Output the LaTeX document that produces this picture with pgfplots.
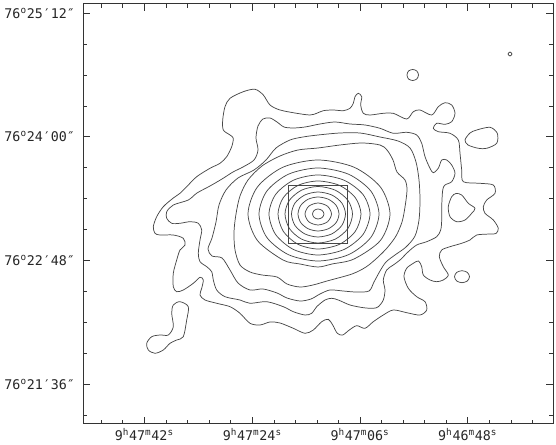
\documentclass[border=0pt]{standalone}
\usepackage{fontspec}
\setmainfont{DejaVu Sans Mono}
\usepackage{pgfplots}
\pgfplotsset{compat=1.18}
\pgfplotsset{ctr/.style={draw=black!72, line width=0.55pt, smooth cycle, mark=none}}
\begin{document}
\begin{tikzpicture}
\begin{axis}[
  at={(62.25pt,15.75pt)}, anchor=south west,
  scale only axis, width=352.5pt, height=315pt,
  xmin=83, xmax=553, ymin=-424, ymax=-4,
  axis line style={black!80, line width=0.75pt},
  xtick={144.3,252.3,360,467.7},
  xticklabels={{9\textsuperscript{h}47\textsuperscript{m}42\textsuperscript{s}},
               {9\textsuperscript{h}47\textsuperscript{m}24\textsuperscript{s}},
               {9\textsuperscript{h}47\textsuperscript{m}06\textsuperscript{s}},
               {9\textsuperscript{h}46\textsuperscript{m}48\textsuperscript{s}}},
  minor xtick={101.2,122.7,165.9,187.4,209.0,230.6,273.9,295.4,317.0,338.6,381.6,403.1,424.7,446.2,489.3,510.9,532.4},
  ytick={-384.2,-260.5,-136.8,-13.3},
  yticklabels={{76\textsuperscript{o}21′36″},{76\textsuperscript{o}22′48″},{76\textsuperscript{o}24′00″},{76\textsuperscript{o}25′12″}},
  minor ytick={-415.1,-353.3,-322.3,-291.4,-229.6,-198.6,-167.7,-106.0,-75.1,-44.2},
  tick align=inside,
  xtick pos=both, ytick pos=both,
  major tick length=5pt, minor tick length=3pt,
  every tick/.style={black!80, line width=0.6pt},
  ticklabel style={font=\fontsize{10}{12}\selectfont, text=black!85},
  yticklabel style={xshift=-2.5pt},
]
% contour 1 (outermost)
\addplot[ctr] coordinates {(230,-98.3) (243.3,-91.7) (255,-89.3) (263.3,-95) (270,-105) (280,-110) (296.7,-113.3) (310,-115) (316.7,-113.3) (323.3,-110.7) (333,-110) (343.3,-110.7) (350,-108.3) (353.3,-103.3) (355,-96.7) (358.3,-93.3) (361.7,-96.7) (360.7,-105) (363.3,-113.3) (370,-115) (383.3,-113.3) (393.3,-113.3) (406.7,-119) (413.3,-111.7) (420,-110) (431.7,-115) (438.3,-106.7) (445,-102.7) (451.7,-105) (455,-113.3) (451.7,-121.7) (445,-124.3) (436.7,-123.3) (433.3,-128.3) (438.3,-131.7) (450,-133.3) (458.3,-140) (460,-153.3) (461.7,-170) (463.3,-181.7) (480,-183.3) (493.3,-185) (495,-193.3) (486.7,-200) (483.3,-206.7) (485,-213.3) (493.3,-220) (498.3,-228.3) (496,-233.5) (490,-234) (476.7,-235) (470,-240) (461.7,-243.3) (450,-246.7) (441.7,-250) (439.3,-256.7) (443.3,-266.7) (448.3,-275) (443.3,-280) (436.7,-281.7) (430,-280) (423.3,-275) (421.7,-266.7) (418.5,-261) (413.3,-263.3) (406.7,-268.3) (404,-276.7) (408.3,-288.3) (416.7,-296.7) (425,-301.7) (426.7,-310) (420,-315) (406.7,-312.7) (393.3,-310) (383.3,-315) (373.3,-321.7) (365,-328.3) (356.7,-325.7) (349.3,-330) (342.7,-335) (337.3,-333.3) (332.7,-325) (328.3,-319.3) (321.7,-321.7) (313.3,-330) (305,-333.3) (293.3,-328.3) (280,-323) (270,-322) (260,-325) (250,-323.3) (240,-313.3) (230,-306.7) (216.7,-303.3) (205,-300) (200,-295) (201.7,-288.3) (203.3,-280) (200,-277.3) (193.3,-283.3) (183.3,-290) (176.7,-291.7) (173.3,-286.7) (173.3,-273.3) (176.7,-260) (180,-250) (185,-245) (183.3,-238.3) (173.3,-235) (160,-235) (155,-233.3) (153.3,-226.7) (156.7,-216.7) (163.3,-206.7) (173.3,-198) (180,-193.3) (186.7,-186.7) (196.7,-176.7) (210,-168.3) (220,-163.3) (226.7,-156.7) (231.7,-146.7) (233.3,-138.3) (230,-135) (223.3,-130) (222.7,-120) (225,-106.7)};
% contour 2
\addplot[ctr] coordinates {(188.3,-200) (197,-193) (210,-186) (222,-179) (233,-172) (243,-167) (254,-160) (258,-150) (256,-138) (258,-126) (263,-119) (270,-118) (277,-122) (284,-127) (293,-128) (305,-127) (320,-124) (335,-122) (350,-124) (365,-125) (380,-128.3) (393.3,-133.3) (406.7,-132.3) (416.7,-135) (421.7,-143.3) (425,-156.7) (430,-168.3) (433.3,-172.7) (438.3,-168.3) (441.7,-160) (446.7,-160) (451.7,-165) (455,-173.3) (451.7,-181.7) (445,-185) (442.7,-190) (441.7,-206.7) (441.7,-220) (440.7,-230) (436.7,-236.7) (426.7,-241.7) (416.7,-245) (408.3,-251.7) (400,-260) (393.3,-265) (386.7,-270) (383.3,-280) (385,-290) (383.3,-300) (378.3,-306.7) (373.3,-308.3) (363.3,-307.7) (350,-305) (338.3,-300) (331.7,-298.3) (325,-300) (316.7,-306.7) (311.7,-313.3) (305,-315) (293.3,-311.7) (283.3,-306.7) (266.7,-301.7) (250,-303.3) (240,-300) (225,-296.7) (216.7,-290) (213.3,-280) (211.7,-271.7) (206.7,-266.7) (200,-261.7) (198.3,-253.3) (200,-240) (201.7,-230) (198.3,-223.3) (190,-221.7) (180,-223.3) (171.7,-223.3) (166.7,-218.3) (166.7,-211.7) (173.3,-205)};
% contour 3
\addplot[ctr] coordinates {(303,-137) (318,-135) (340,-133) (360,-133) (380,-137) (398,-141) (410,-148) (416,-162) (419,-180) (420,-200) (419,-220) (415,-236) (406,-247) (395,-255) (386,-262) (380,-271) (374,-282) (369,-291) (356,-292) (343,-291) (330,-290) (320,-294) (311,-299) (300,-301) (287,-298) (277,-293) (263,-289) (250,-290) (238,-283) (230,-270) (222,-258) (212,-256) (208,-249) (212,-238) (216,-222) (219,-205) (226,-190) (238,-178) (254,-170) (266,-160) (276,-148) (290,-140)};
% contour 4
\addplot[ctr] coordinates {(298,-150) (318,-148) (340,-145) (362,-143) (380,-145) (387,-150) (393,-160) (397,-172) (405,-180) (407,-190) (405,-207) (402,-222) (396,-236) (387,-248) (377,-258) (366,-267) (352,-274) (327,-281) (313,-285) (300,-287) (287,-284) (277,-277) (262,-275) (250,-272) (240,-265) (235,-250) (234,-232) (236,-214) (240,-196) (248,-180) (262,-166) (280,-156)};
% inner rings
\addplot[ctr] coordinates {(390,-214) (380.4,-187) (354,-167.2) (318,-160) (283,-167.2) (257.4,-187) (248,-214) (257.4,-240.5) (283,-260) (300,-264) (318,-267) (332,-264) (354,-259) (380.4,-240.5)};
\addplot[ctr] coordinates {(379,-214) (370.8,-191) (348.5,-174.2) (318,-168) (288.5,-174.2) (266.9,-191) (259,-214) (266.9,-237.5) (288.5,-254.7) (318,-261) (348.5,-254.7) (370.8,-237.5)};
\addplot[ctr] coordinates {(370,-214) (363,-194.5) (344,-180.2) (318,-175) (293.5,-180.2) (275.6,-194.5) (269,-214) (275.6,-234.5) (293.5,-249.5) (318,-255) (344,-249.5) (363,-234.5)};
\addplot[ctr] coordinates {(361,-214) (355.2,-197.5) (339.5,-185.4) (318,-181) (298,-185.4) (283.4,-197.5) (278,-214) (283.4,-231.5) (298,-244.3) (318,-249) (339.5,-244.3) (355.2,-231.5)};
\addplot[ctr] coordinates {(352.5,-214) (347.9,-200.3) (335.3,-190.2) (318,-186.5) (301.5,-190.2) (289.4,-200.3) (285,-214) (289.4,-228.5) (301.5,-239.1) (318,-243) (335.3,-239.1) (347.9,-228.5)};
\addplot[ctr] coordinates {(345.5,-214) (341.8,-203) (331.8,-195) (318,-192) (304.8,-195) (295,-203) (291.5,-214) (295,-225.5) (304.8,-233.9) (318,-237) (331.8,-233.9) (341.8,-225.5)};
\addplot[ctr] coordinates {(339,-214) (336.2,-205.5) (328.5,-199.3) (318,-197) (308,-199.3) (300.7,-205.5) (298,-214) (300.7,-222.5) (308,-228.7) (318,-231) (328.5,-228.7) (336.2,-222.5)};
\addplot[ctr] coordinates {(331.5,-214) (327.5,-206.2) (318,-203) (308.8,-206.2) (305,-214) (308.8,-221.8) (318,-225) (327.5,-221.8)};
\addplot[ctr] coordinates {(324,-214) (322.2,-210.5) (318,-209) (314.1,-210.5) (312.5,-214) (314.1,-217.5) (318,-219) (322.2,-217.5)};
% islands
\addplot[ctr] coordinates {(418.5,-75) (416.8,-79) (412.7,-80.5) (408.5,-79) (407,-75) (408.5,-71) (412.7,-69.5) (416.8,-71)};
\addplot[ctr] coordinates {(512,-54) (510,-56) (508,-54) (510,-52)};
\addplot[ctr] coordinates {(465,-140) (470,-133) (476.7,-130) (490,-127.3) (497.3,-133.3) (496.7,-143.3) (486.7,-148.3) (478.3,-148.3) (468,-145)};
\addplot[ctr] coordinates {(461.7,-195) (468.3,-203.3) (475,-208.3) (471.7,-213.3) (465,-220) (456.7,-221.7) (450,-216.7) (448.3,-206.7) (451.7,-196.7) (456,-193.5)};
\addplot[ctr] coordinates {(469.5,-276.7) (467.3,-281) (462,-282.7) (456.7,-281) (454.5,-276.7) (456.7,-272.4) (462,-270.7) (467.3,-272.4)};
\addplot[ctr] coordinates {(180,-301.7) (188.3,-306.7) (186.7,-320) (183.3,-336.7) (176.7,-340) (170,-343.3) (163.3,-350) (155,-353.3) (148.3,-350) (146.7,-343.3) (151.7,-336.7) (160,-335) (168.3,-335) (173.3,-326.7) (171.7,-313.3) (173.3,-305)};
% box
\addplot[draw=black!72, line width=0.55pt, mark=none, sharp plot] coordinates {(288.3,-185) (347.3,-185) (347.3,-243.7) (288.3,-243.7) (288.3,-185)};
\end{axis}
\pgfresetboundingbox
\path[use as bounding box] (0,0) rectangle (417pt,333.75pt);
\end{tikzpicture}
\end{document}
